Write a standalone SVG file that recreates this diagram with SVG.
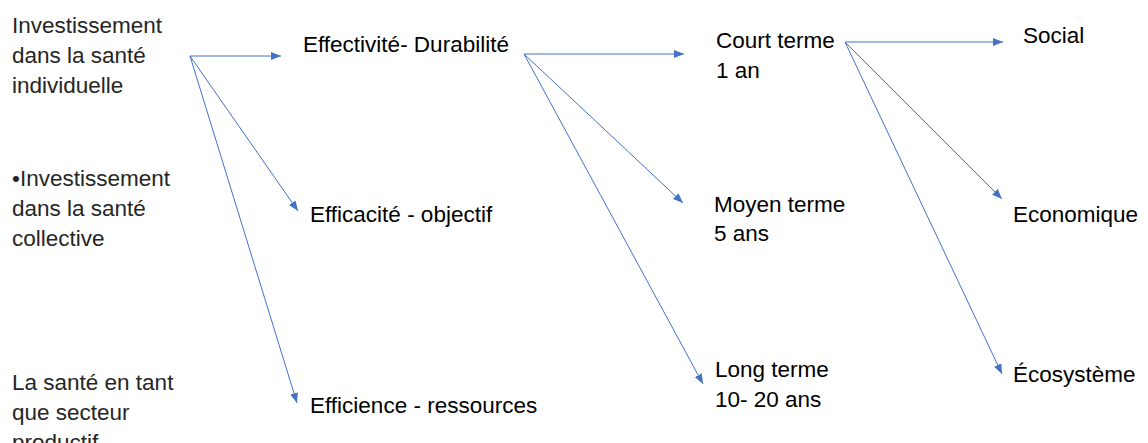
<svg xmlns="http://www.w3.org/2000/svg" width="1148" height="443" viewBox="0 0 1148 443">
<style>
text{font-family:"Liberation Sans",Arial,sans-serif;font-size:22.5px;fill:#000}
.l{fill:#262626}
.c line{stroke:#4472C4;stroke-width:1;fill:none;marker-end:url(#ah)}
</style>
<defs>
<marker id="ah" markerUnits="userSpaceOnUse" markerWidth="11" markerHeight="9" refX="10" refY="4" orient="auto">
<path d="M0,0 L10,4 L0,8 z" fill="#4472C4"/>
</marker>
</defs>
<rect width="1148" height="443" fill="#fff"/>
<g id="connectors" class="c">
<line x1="190" y1="56" x2="281" y2="56"/>
<line x1="190" y1="56" x2="298" y2="211"/>
<line x1="190" y1="56" x2="297" y2="403"/>
<line x1="524" y1="54" x2="684" y2="54"/>
<line x1="524" y1="54" x2="683" y2="203"/>
<line x1="524" y1="54" x2="703" y2="384"/>
<line x1="845" y1="42" x2="1003" y2="42"/>
<line x1="845" y1="42" x2="1002" y2="199"/>
<line x1="845" y1="42" x2="1002" y2="374"/>
</g>
<g id="n-individuelle"><text class="l" x="12" y="33">Investissement</text><text class="l" x="12" y="63">dans la santé</text><text class="l" x="12" y="93">individuelle</text></g>
<g id="n-collective"><text class="l" x="12" y="186">•Investissement</text><text class="l" x="12" y="216">dans la santé</text><text class="l" x="12" y="246">collective</text></g>
<g id="n-productif"><text class="l" x="12" y="390">La santé en tant</text><text class="l" x="12" y="420">que secteur</text><text class="l" x="12" y="450">productif</text></g>
<g id="n-effectivite"><text x="303" y="52">Effectivité- Durabilité</text></g>
<g id="n-efficacite"><text x="310" y="222">Efficacité - objectif</text></g>
<g id="n-efficience"><text x="310" y="413">Efficience - ressources</text></g>
<g id="n-court"><text x="716" y="48">Court terme</text><text x="716" y="78">1 an</text></g>
<g id="n-moyen"><text x="714" y="212">Moyen terme</text><text x="714" y="241">5 ans</text></g>
<g id="n-long"><text x="715" y="377">Long terme</text><text x="715" y="407">10- 20 ans</text></g>
<g id="n-social"><text x="1023" y="43">Social</text></g>
<g id="n-economique"><text x="1013" y="222">Economique</text></g>
<g id="n-ecosysteme"><text x="1013" y="382">Écosystème</text></g>
</svg>
